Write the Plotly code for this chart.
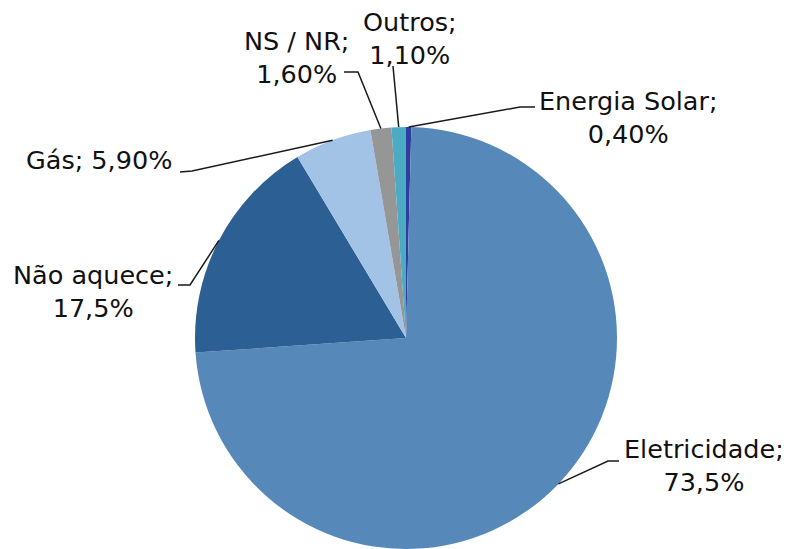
import numpy as np
import plotly.graph_objects as go

# data, clockwise from 12 o'clock
labels = ["Energia Solar", "Eletricidade", "Não aquece", "Gás", "NS / NR", "Outros"]
values = [0.4, 73.5, 17.5, 5.9, 1.6, 1.1]
value_text = ["0,40%", "73,5%", "17,5%", "5,90%", "1,60%", "1,10%"]
colors = ["#2E3D9E", "#5689BA", "#2C5F93", "#A3C3E6", "#969696", "#4AABC2"]

# the page body has an 8px margin, so the figure is shrunk by that much
OFF = 8
W, H = 789 - OFF, 549 - OFF
cx, cy, r = 406, 338, 211  # pie geometry in screen px

# label placement (screen px): text centre, knee and end of the leader line
label_pos = {
    "Energia Solar": dict(text=(628, 117), knee=(520, 107), end=(535, 107), br=True),
    "Eletricidade": dict(text=(704, 465), knee=(608, 461), end=(619, 461), br=True),
    "Não aquece": dict(text=(93, 291), knee=(190, 285), end=(178, 285), br=True),
    "Gás": dict(text=(99, 160), knee=(192, 171), end=(180, 172), br=False),
    "NS / NR": dict(text=(296, 57), knee=(358, 72), end=(344, 72), br=True),
    "Outros": dict(text=(410, 38), knee=(393, 66), end=(393, 66), br=True),
}


def px(x, y):
    return (x - OFF) / W, 1 - (y - OFF) / H


fig = go.Figure(go.Pie(
    labels=labels, values=values, sort=False, direction="clockwise",
    rotation=0, textinfo="none", hoverinfo="label+percent",
    marker=dict(colors=colors, line=dict(width=0)),
    domain=dict(x=[px(cx - r, 0)[0], px(cx + r, 0)[0]],
                y=[px(0, cy + r)[1], px(0, cy - r)[1]]),
    showlegend=False,
))

total = sum(values)
cum = 0
for lab, v, vt in zip(labels, values, value_text):
    mid = (cum + v / 2) / total * 2 * np.pi
    cum += v
    p = label_pos[lab]
    ax_, ay_ = cx + r * np.sin(mid), cy - r * np.cos(mid)
    pts = [(ax_, ay_), p["knee"], p["end"]]
    path = "M " + " L ".join(f"{px(*q)[0]},{px(*q)[1]}" for q in pts)
    fig.add_shape(type="path", path=path, xref="paper", yref="paper",
                  line=dict(color="#1a1a1a", width=1.5))
    sep = "<br>" if p["br"] else " "
    tx, ty = px(*p["text"])
    fig.add_annotation(x=tx, y=ty, xref="paper", yref="paper",
                       text=f"{lab};{sep}{vt}", showarrow=False,
                       xanchor="center", yanchor="middle", align="center",
                       font=dict(family="DejaVu Sans", size=25.5, color="#111111"))

fig.update_layout(width=W, height=H, margin=dict(l=0, r=0, t=0, b=0),
                  paper_bgcolor="white", plot_bgcolor="white")
fig.write_html("out.html")
